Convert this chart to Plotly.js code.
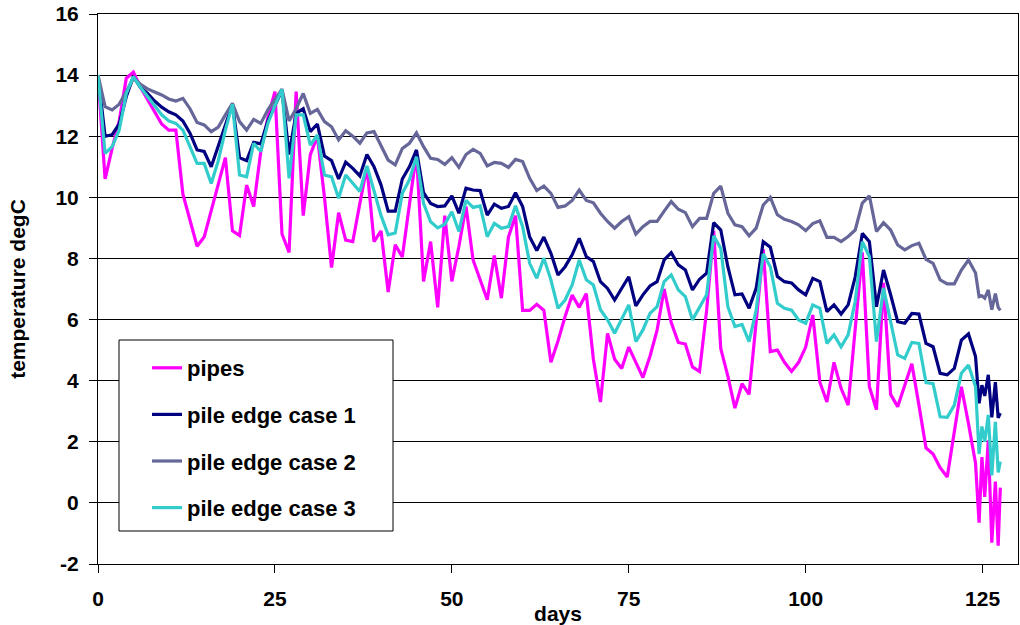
<!DOCTYPE html>
<html>
<head>
<meta charset="utf-8">
<script src="https://cdn.plot.ly/plotly-3.0.1.min.js"></script>
<style>
html,body{margin:0;padding:0;background:#fff;}
#chart{width:1020px;height:625px;}
</style>
</head>
<body>
<div id="chart"></div>
<script>
const days = [0,1,2,3,4,5,6,7,8,9,
10,11,12,13,14,15,16,17,18,19,
20,21,22,23,24,25,26,27,28,29,
30,31,32,33,34,35,36,37,38,39,
40,41,42,43,44,45,46,47,48,49,
50,51,52,53,54,55,56,57,58,59,
60,61,62,63,64,65,66,67,68,69,
70,71,72,73,74,75,76,77,78,79,
80,81,82,83,84,85,86,87,88,89,
90,91,92,93,94,95,96,97,98,99,
100,101,102,103,104,105,106,107,108,109,
110,111,112,113,114,115,116,117,118,119,
120,121,122,123,124,
124.5,124.9,125.3,125.8,126.3,126.8,127.2,127.5];

const pipes = [14.0,10.6,11.6,12.5,13.9,14.1,13.6,13.2,12.8,12.4,
12.2,12.2,10.1,9.2,8.4,8.7,9.6,10.5,11.3,8.9,
8.75,10.4,9.7,11.5,12.6,13.46,8.8,8.2,13.46,9.4,
11.4,12.0,10.0,7.7,9.5,8.6,8.55,9.8,11.0,8.55,
8.9,6.9,8.45,8.05,9.8,11.45,7.25,8.55,6.4,9.4,
7.25,8.4,9.7,7.95,7.3,6.65,8.1,6.7,8.7,9.4,
6.3,6.3,6.5,6.3,4.6,5.3,6.1,6.8,6.4,6.85,
4.7,3.3,5.55,4.7,4.4,5.1,4.6,4.1,4.8,5.65,
7.0,5.9,5.25,5.2,4.45,4.3,6.3,8.9,5.05,4.15,
3.1,3.9,3.55,5.9,8.3,4.95,5.0,4.6,4.3,4.6,
5.1,6.15,3.95,3.3,4.6,3.75,3.2,5.7,8.2,3.8,
3.05,7.2,3.55,3.15,3.85,4.55,3.2,1.8,1.6,1.15,
0.85,2.3,3.8,2.6,1.3,
-0.65,1.5,0.2,2.05,-1.3,0.7,-1.4,0.5];

const case1 = [14.0,12.0,12.05,12.4,13.3,13.95,13.6,13.4,13.15,12.95,
12.8,12.7,12.5,12.1,11.55,11.5,11.0,11.7,12.4,13.05,
11.3,11.2,11.8,11.75,12.5,13.0,13.5,11.4,12.75,12.9,
12.15,12.4,11.35,11.2,10.6,11.15,10.95,10.7,11.4,11.0,
10.4,9.55,9.55,10.6,11.0,11.55,10.15,9.8,9.7,9.72,
10.05,9.48,10.3,10.24,10.22,9.42,9.78,9.64,9.7,10.15,
9.7,8.7,8.26,8.7,8.17,7.46,7.73,8.12,8.66,8.06,
7.9,7.24,7.02,6.64,7.02,7.4,6.45,6.81,7.1,7.24,
7.95,8.19,7.79,7.62,6.97,7.32,7.52,9.17,8.93,7.73,
6.81,6.84,6.37,7.02,8.55,8.37,7.41,7.24,7.2,6.97,
6.81,7.35,7.24,6.26,6.48,6.18,6.48,7.4,8.82,8.55,
6.42,7.62,6.81,5.93,5.88,6.2,6.18,5.22,5.11,4.24,
4.19,4.4,5.33,5.53,4.79,
3.26,3.85,3.5,4.19,2.8,3.95,2.78,2.94];

const case2 = [14.0,12.97,12.86,13.05,13.46,13.9,13.7,13.55,13.45,13.35,
13.22,13.15,13.24,12.9,12.45,12.37,12.15,12.3,12.7,13.08,
12.48,12.2,12.55,12.42,12.86,13.2,13.54,12.5,12.9,13.4,
12.75,12.88,12.48,12.31,11.88,12.18,12.0,11.77,12.11,12.15,
11.71,11.22,11.06,11.6,11.77,12.11,11.66,11.28,11.24,11.08,
11.3,10.98,11.4,11.57,11.44,11.03,11.14,11.11,10.98,11.24,
11.17,10.62,10.22,10.37,10.13,9.67,9.72,9.9,10.24,9.9,
9.82,9.48,9.21,8.99,9.21,9.37,8.8,9.04,9.21,9.21,
9.55,9.86,9.61,9.5,9.04,9.31,9.31,10.13,10.37,9.48,
9.1,9.04,8.74,8.99,9.75,10.0,9.43,9.28,9.21,9.1,
8.91,9.14,9.23,8.69,8.69,8.55,8.72,8.93,9.81,10.05,
8.88,9.17,8.93,8.44,8.28,8.42,8.5,7.97,7.84,7.3,
7.17,7.17,7.62,7.95,7.52,
6.75,6.78,6.7,6.97,6.32,6.85,6.4,6.3];

const case3 = [14.0,11.44,11.66,12.2,13.4,13.95,13.6,13.3,13.0,12.7,
12.5,12.42,12.2,11.65,11.11,11.11,10.45,11.2,12.2,13.05,
10.73,10.67,11.77,11.5,12.42,13.0,13.53,10.62,12.7,12.7,
11.71,12.04,10.73,10.67,9.97,10.73,10.46,10.19,11.03,10.24,
9.4,8.77,8.83,10.13,10.57,11.33,9.8,9.2,9.0,9.12,
9.53,8.88,9.9,9.67,9.72,8.71,9.15,8.99,9.04,9.72,
9.04,7.84,7.35,8.01,7.3,6.37,6.64,7.13,7.95,7.3,
7.13,6.32,5.99,5.55,5.99,6.48,5.28,5.66,6.2,6.42,
7.24,7.46,6.97,6.75,5.99,6.42,6.81,8.74,8.33,6.42,
5.77,5.84,5.28,6.31,8.15,7.73,6.53,6.37,6.31,5.99,
5.88,6.48,6.37,5.22,5.5,5.11,5.5,6.6,8.55,8.06,
5.28,7.03,5.99,4.84,4.73,5.25,5.22,3.94,3.9,2.82,
2.8,3.2,4.24,4.51,3.8,
1.6,2.5,2.0,2.88,0.9,2.65,1.0,1.35];

const seriesNames = ["pipes","pile edge case 1","pile edge case 2","pile edge case 3"];
const seriesColors = ["#FF00FF","#000080","#666699","#33CCCC"];
const seriesValues = [pipes, case1, case2, case3];
const xTicks = [0,25,50,75,100,125];
const yTicks = [-2,0,2,4,6,8,10,12,14,16];
const yTickLabels = ["-2","0","2","4","6","8","10","12","14","16"];

const FONT = "Arial, 'Liberation Sans', sans-serif";
function f(size){ return {family: FONT, size: size, color: "#000", weight: "bold"}; }

const traces = seriesValues.map((vals, i) => ({
  type: "scatter",
  mode: "lines",
  x: days,
  y: vals,
  name: seriesNames[i],
  legendgroup: "g" + i,
  line: {color: seriesColors[i], width: 3.2}
}));

const L = 98, T = 14, W = 920, H = 550;
function px(x){ return (x - L) / W; }
function py(y){ return (T + H - y) / H; }

const layout = {
  width: 1020, height: 625,
  margin: {l: L, r: 1020 - L - W, t: T, b: 625 - T - H, pad: 0},
  paper_bgcolor: "#ffffff",
  plot_bgcolor: "#ffffff",
  font: f(21),
  showlegend: true,
  legend: {
    x: px(147), y: py(347), xanchor: "left", yanchor: "top",
    bgcolor: "rgba(0,0,0,0)", borderwidth: 0,
    traceorder: "grouped", tracegroupgap: 15,
    font: f(22)
  },
  xaxis: {
    range: [0, 130],
    tickvals: xTicks,
    ticktext: xTicks.map(String),
    ticks: "outside", ticklen: 8, tickcolor: "#000", tickwidth: 1,
    showline: true, linecolor: "#000", linewidth: 1, mirror: true,
    showgrid: false, zeroline: false,
    tickfont: f(21),
    ticklabelstandoff: 8,
    title: {text: "days", font: f(21), standoff: 0}
  },
  yaxis: {
    range: [-2, 16],
    tickvals: yTicks,
    ticktext: yTickLabels,
    ticks: "outside", ticklen: 8, tickcolor: "#000", tickwidth: 1,
    showline: true, linecolor: "#000", linewidth: 1, mirror: true,
    showgrid: true, gridcolor: "#000", gridwidth: 1, zeroline: false,
    tickfont: f(21),
    ticklabelstandoff: 6,
    title: {text: "temperature degC", font: f(21), standoff: 24}
  },
  shapes: [{
    type: "rect", xref: "paper", yref: "paper", layer: "above",
    x0: px(119), x1: px(393), y0: py(531), y1: py(340),
    fillcolor: "#ffffff", line: {color: "#000", width: 1}
  }]
};

Plotly.newPlot("chart", traces, layout, {staticPlot: true, displayModeBar: false});
</script>
</body>
</html>
